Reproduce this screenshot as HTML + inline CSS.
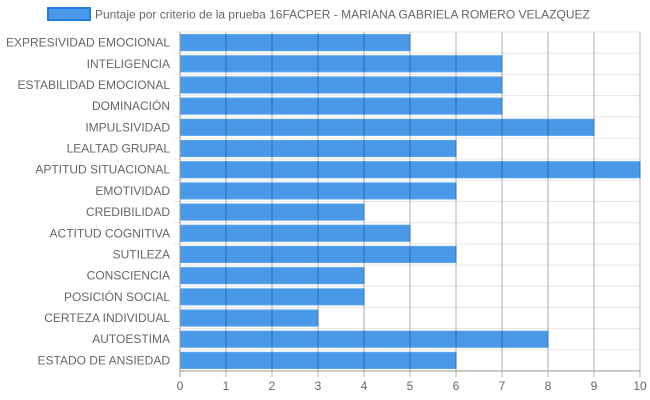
<!DOCTYPE html>
<html><head><meta charset="utf-8"><style>
body{margin:0;background:#fff;font-family:"Liberation Sans",sans-serif}
</style></head><body>
<svg width="650" height="400" style="display:block">
<g>
<rect x="48" y="8" width="42" height="12" fill="#4a99e8" stroke="#1f7de0" stroke-width="2"/>
<text x="95" y="18.5" font-size="12" fill="#666">Puntaje por criterio de la prueba 16FACPER - MARIANA GABRIELA ROMERO VELAZQUEZ</text>
</g>
<g id="chart"></g>
</svg>
<script>
const categories=["EXPRESIVIDAD EMOCIONAL","INTELIGENCIA","ESTABILIDAD EMOCIONAL","DOMINACIÓN","IMPULSIVIDAD","LEALTAD GRUPAL","APTITUD SITUACIONAL","EMOTIVIDAD","CREDIBILIDAD","ACTITUD COGNITIVA","SUTILEZA","CONSCIENCIA","POSICIÓN SOCIAL","CERTEZA INDIVIDUAL","AUTOESTIMA","ESTADO DE ANSIEDAD"];
const values=[5,7,7,7,9,6,10,6,4,5,6,4,4,3,8,6];
const ticks=[0,1,2,3,4,5,6,7,8,9,10];
const NS="http://www.w3.org/2000/svg";
const g=document.getElementById('chart');
const L=180,R=640,T=32,B=371;
const xS=v=>L+(v-ticks[0])/(ticks[ticks.length-1]-ticks[0])*(R-L);
const band=(B-T)/categories.length;
const yS=i=>T+band*i;
function mk(t,a){const e=document.createElementNS(NS,t);for(const k in a)e.setAttribute(k,a[k]);g.appendChild(e);return e;}
categories.forEach((c,i)=>{
 const l=mk('line',{x1:L-6,x2:R,y1:yS(i),y2:yS(i),stroke:'#e8e8e8'});
 
 
 const t=mk('text',{x:L-10,y:yS(i)+band/2+4,'font-size':12,fill:'#666','text-anchor':'end'});
 t.textContent=c;
 
 
});
categories.forEach((c,i)=>{
 const r=mk('rect',{x:xS(0),y:yS(i)+2.5,width:xS(values[i])-xS(0),height:band-5,fill:'#4a99e8',stroke:'#5aa5ee','stroke-width':1});
 
 
});
ticks.forEach(v=>{
 const l=mk('line',{x1:xS(v),x2:xS(v),y1:T,y2:B+6,stroke:v===0?'#999':'rgba(0,0,0,0.3)'});
 
 
 const t=mk('text',{x:xS(v),y:B+19,'font-size':12,fill:'#666','text-anchor':'middle'});
 t.textContent=v;
 
 
});
const ax=mk('line',{x1:L,x2:R,y1:B,y2:B,stroke:'#999'});


</script>
</body></html>
